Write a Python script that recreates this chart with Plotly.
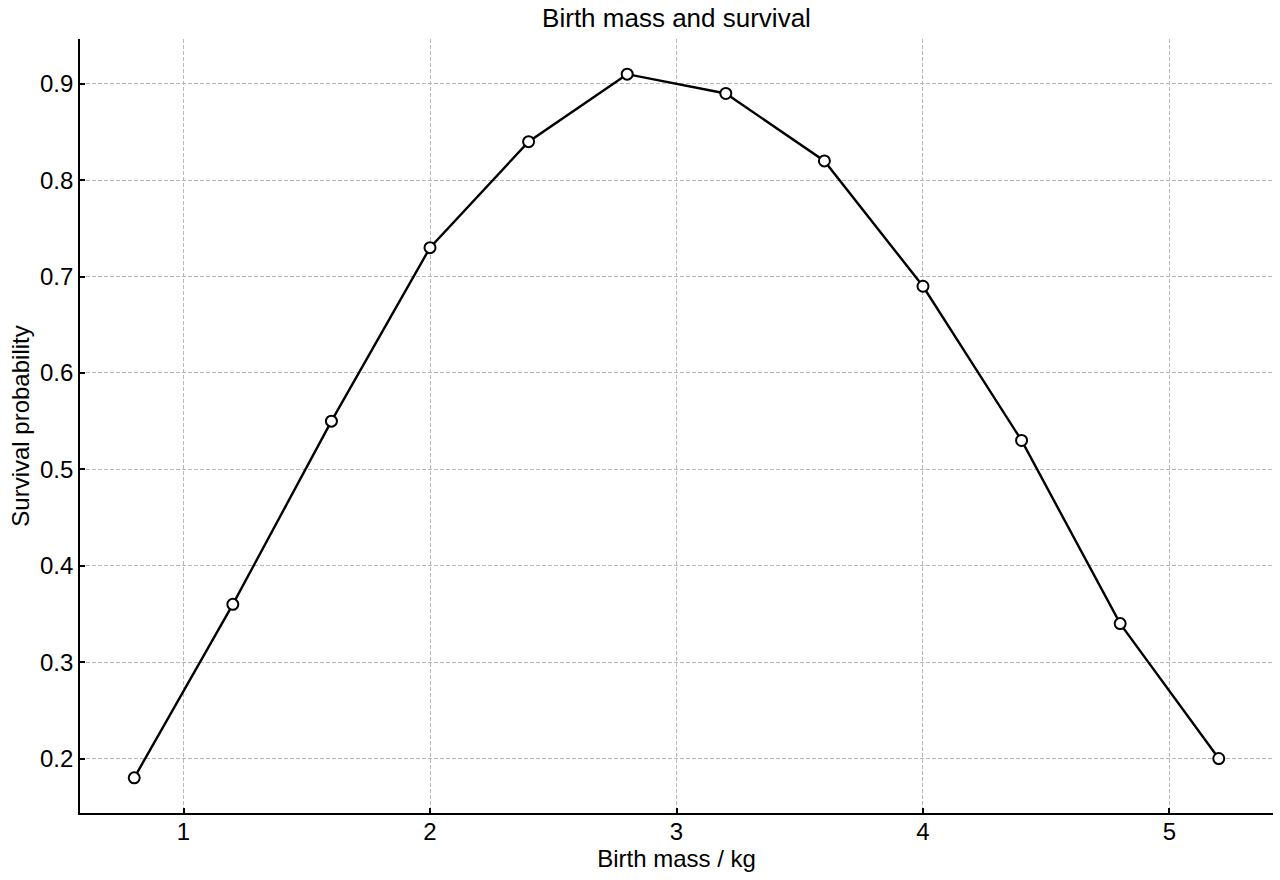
import plotly.graph_objects as go

birth_mass = [0.8, 1.2, 1.6, 2.0, 2.4, 2.8, 3.2, 3.6, 4.0, 4.4, 4.8, 5.2]
survival = [0.18, 0.36, 0.55, 0.73, 0.84, 0.91, 0.89, 0.82, 0.69, 0.53, 0.34, 0.20]
x_ticks = [1, 2, 3, 4, 5]
y_ticks = [0.2, 0.3, 0.4, 0.5, 0.6, 0.7, 0.8, 0.9]

font = "Liberation Sans, Arial, sans-serif"
W, H = 1280, 880

fig = go.Figure()
fig.add_trace(go.Scatter(
    x=birth_mass, y=survival, mode="lines+markers",
    line=dict(color="black", width=2.4),
    marker=dict(size=11, color="white", line=dict(color="black", width=2)),
    showlegend=False,
))

axis_common = dict(
    showline=True, linecolor="black", linewidth=1.8, mirror=False,
    ticks="inside", ticklen=5, tickwidth=1.5, tickcolor="black",
    showgrid=True, gridcolor="#b8b8b8", griddash="4px,2px", gridwidth=1,
    zeroline=False, tickfont=dict(size=24, color="black", family=font),
)

fig.update_layout(
    width=W, height=H,
    paper_bgcolor="white", plot_bgcolor="white",
    margin=dict(l=80, r=7, t=39, b=67),
    title=dict(text="Birth mass and survival", x=(80 + 1273) / 2 / W, xanchor="center",
               y=1 - 18 / H, yanchor="middle",
               font=dict(size=26, color="black", family=font)),
    xaxis=dict(range=[0.58, 5.42], tickvals=x_ticks, ticktext=[str(v) for v in x_ticks],
               ticklabelstandoff=-4,
               title=dict(text="Birth mass / kg", font=dict(size=24, color="black", family=font), standoff=6),
               **axis_common),
    yaxis=dict(range=[0.1435, 0.9465], tickvals=y_ticks, ticktext=[f"{v:.1f}" for v in y_ticks],
               title=dict(text="Survival probability", font=dict(size=24, color="black", family=font), standoff=4),
               **axis_common),
    font=dict(family=font, color="black"),
)

fig.write_html("out.html", config={"displayModeBar": False},
               post_script="document.body.style.margin='0';")
